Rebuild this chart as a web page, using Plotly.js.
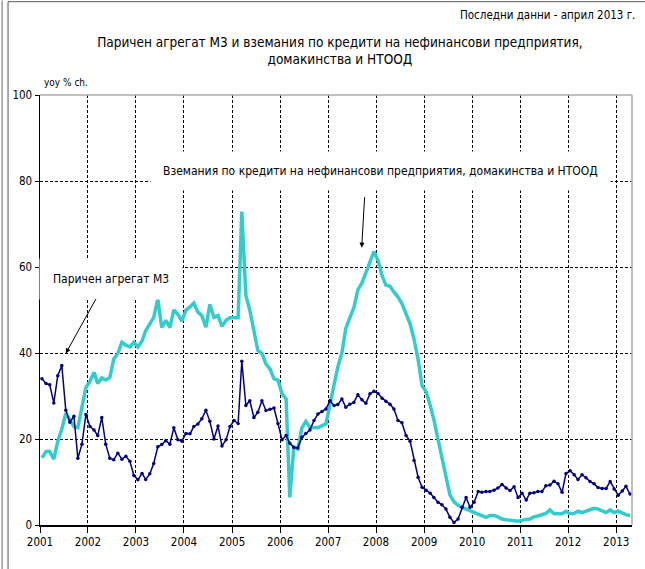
<!DOCTYPE html>
<html>
<head>
<meta charset="utf-8">
<script src="https://cdn.plot.ly/plotly-3.0.1.min.js"></script>
<style>
    body { margin: 0; background: #fff; }
    #chart { width: 645px; height: 569px; }
</style>
</head>
<body>
<div id="chart"></div>
<script>
// Monthly data, January 2001 - April 2013 (yoy % change)
const firstYear = 2001;
const yearLabels = ["2001", "2002", "2003", "2004", "2005", "2006", "2007", "2008", "2009", "2010", "2011", "2012", "2013"];

const m3Name = "Паричен агрегат М3";
const creditName = "Вземания по кредити на нефинансови предприятия, домакинства и НТООД";

// Паричен агрегат М3
const m3Values = [
    34.0, 32.9, 32.6, 28.4, 34.7, 37.1, 26.7, 23.9, 25.3, 15.5, 18.8, 25.7,
    22.9, 22.1, 20.8, 25.0, 18.8, 15.5, 15.2, 16.7, 15.3, 16.0, 14.8, 11.5,
    10.5, 12.0, 10.6, 11.9, 14.3, 18.2, 18.7, 19.6, 18.8, 22.6, 19.8, 19.5,
    21.3, 21.2, 22.9, 23.5, 24.7, 26.7, 24.1, 20.0, 23.0, 18.4, 19.8, 22.9,
    24.3, 23.6, 38.1, 27.8, 28.9, 25.0, 26.2, 28.9, 26.6, 26.9, 27.2, 23.6,
    19.8, 20.8, 19.0, 18.0, 17.9, 20.4, 21.3, 22.1, 24.3, 25.8, 26.4, 27.0,
    28.9, 27.8, 28.0, 29.3, 27.4, 28.1, 28.5, 30.3, 29.1, 28.3, 30.5, 31.1,
    30.6, 29.5, 28.8, 28.1, 27.0, 24.3, 23.8, 20.8, 19.5, 15.0, 11.1, 8.8,
    8.1, 7.4, 6.4, 5.3, 4.7, 3.7, 1.8, 0.6, 1.4, 4.1, 6.4, 4.1,
    5.3, 7.8, 7.6, 7.8, 7.8, 8.1, 8.6, 9.4, 8.6, 8.0, 8.9, 6.4,
    7.4, 5.8, 7.4, 7.5, 7.8, 7.8, 9.1, 9.3, 10.2, 9.6, 7.6, 12.0,
    12.6, 11.7, 10.6, 11.7, 11.0, 10.1, 9.6, 8.7, 8.5, 8.5, 10.1, 8.4,
    6.9, 7.9, 9.0, 7.2
];

// Вземания по кредити
const creditValues = [
    15.6, 17.1, 17.1, 15.3, 19.4, 22.3, 26.0, 24.6, 22.9, 22.6, 27.0, 32.0,
    33.4, 35.5, 32.9, 34.2, 33.7, 34.3, 38.6, 39.9, 42.5, 41.8, 41.4, 42.5,
    41.4, 42.8, 45.2, 46.8, 48.3, 52.6, 45.9, 47.6, 45.9, 50.0, 49.0, 47.4,
    50.0, 50.7, 51.6, 49.5, 48.7, 46.0, 51.3, 48.3, 48.7, 46.2, 47.6, 48.2,
    48.3, 48.2, 72.9, 53.4, 49.9, 45.6, 40.6, 39.9, 37.4, 36.3, 34.0, 33.7,
    30.5, 29.3, 6.4, 18.2, 17.7, 22.6, 24.1, 22.7, 22.6, 22.6, 23.1, 23.5,
    28.1, 32.8, 36.7, 40.0, 45.7, 48.2, 50.5, 54.7, 56.3, 58.7, 61.3, 63.6,
    61.5, 58.0, 55.8, 55.5, 54.2, 53.0, 51.5, 49.0, 46.8, 43.2, 38.5, 32.4,
    31.0, 27.8, 24.5, 20.0, 15.5, 11.0, 7.0, 5.4, 4.6, 4.1, 3.7, 3.3,
    2.8, 2.4, 2.2, 1.8, 2.2, 2.2, 1.9, 1.4, 1.2, 1.0, 1.0, 0.9,
    1.2, 1.3, 1.4, 1.9, 2.1, 2.4, 2.7, 3.5, 2.6, 2.6, 2.6, 3.2,
    2.6, 2.7, 3.2, 2.9, 3.3, 3.7, 3.9, 3.7, 3.3, 2.9, 3.5, 2.9,
    3.2, 2.7, 2.4, 2.2
];

// one date per month, placed in the middle of the month
function monthDates(count) {
    let dates = [];
    for (let i = 0; i < count; i++) {
        let y = firstYear + Math.floor(i / 12);
        let m = (i % 12) + 1;
        dates.push(y + "-" + (m < 10 ? "0" + m : m) + "-16");
    }
    return dates;
}

const dates = monthDates(m3Values.length);
const font = "DejaVu Sans Condensed, sans-serif";

let creditTrace = {
    x: dates,
    y: creditValues,
    name: creditName,
    mode: "lines",
    type: "scatter",
    line: { color: "#33cccc", width: 3.5 }
};

let m3Trace = {
    x: dates,
    y: m3Values,
    name: m3Name,
    mode: "lines+markers",
    type: "scatter",
    line: { color: "#000080", width: 1.5 },
    marker: { color: "#000080", size: 3.5 }
};

let frameLine = { color: "#555", width: 1 };

let layout = {
    width: 645,
    height: 569,
    margin: { l: 40, r: 13, t: 95, b: 44 },
    paper_bgcolor: "#fff",
    plot_bgcolor: "#fff",
    showlegend: false,
    font: { family: font, size: 12, color: "#000" },
    title: {
        text: "Паричен агрегат М3 и вземания по кредити на нефинансови предприятия,<br>домакинства и НТООД",
        font: { family: font, size: 13.5, color: "#000" },
        x: 0.527,
        xanchor: "center",
        y: 0.918,
        yanchor: "middle"
    },
    xaxis: {
        type: "date",
        range: ["2001-01-01", "2013-05-01"],
        tickvals: yearLabels.map(y => y + "-01-01"),
        ticktext: yearLabels,
        ticks: "outside",
        ticklen: 6,
        tickcolor: "#000",
        showline: true,
        linecolor: "#000",
        linewidth: 1.5,
        showgrid: true,
        gridcolor: "#000",
        gridwidth: 1,
        griddash: "3px,2px",
        tickfont: { family: font, size: 11.5 },
        fixedrange: true
    },
    yaxis: {
        range: [0, 100],
        tickvals: [0, 20, 40, 60, 80, 100],
        ticks: "outside",
        ticklen: 4,
        tickcolor: "#000",
        showline: true,
        linecolor: "#000",
        linewidth: 1.5,
        showgrid: true,
        gridcolor: "#000",
        gridwidth: 1,
        griddash: "3px,2px",
        zeroline: false,
        tickfont: { family: font, size: 11.5 },
        fixedrange: true
    },
    shapes: [
        // grey border on top and right of the plot area
        { type: "line", xref: "paper", yref: "paper", x0: 0, x1: 1, y0: 1, y1: 1, line: { color: "#aaa", width: 1.5 } },
        { type: "line", xref: "paper", yref: "paper", x0: 1, x1: 1, y0: 0, y1: 1, line: { color: "#aaa", width: 1.5 } },
        // outer frame
        { type: "line", xref: "paper", yref: "paper", x0: -0.064, x1: -0.064, y0: -0.11, y1: 1.22, line: { color: "#999", width: 1.5 } },
        { type: "line", xref: "paper", yref: "paper", x0: -0.054, x1: -0.054, y0: -0.11, y1: 1.217, line: frameLine },
        { type: "line", xref: "paper", yref: "paper", x0: -0.054, x1: 1.03, y0: 1.217, y1: 1.217, line: frameLine }
    ],
    annotations: [
        {
            text: "Последни данни - април 2013 г.",
            xref: "paper", yref: "paper",
            x: 1.008, y: 1.185,
            xanchor: "right", yanchor: "middle",
            showarrow: false,
            font: { family: font, size: 11.5 }
        },
        {
            text: "yoy % ch.",
            xref: "paper", yref: "paper",
            x: 0.003, y: 1.03,
            xanchor: "left", yanchor: "middle",
            showarrow: false,
            font: { family: font, size: 10 }
        },
        {
            text: creditName,
            xref: "paper", yref: "paper",
            x: 0.576, y: 0.824,
            xanchor: "center", yanchor: "middle",
            showarrow: false,
            bgcolor: "#fff",
            borderpad: 12,
            font: { family: font, size: 12 }
        },
        {
            text: m3Name,
            xref: "paper", yref: "paper",
            x: 0.12, y: 0.571,
            xanchor: "center", yanchor: "middle",
            showarrow: false,
            bgcolor: "#fff",
            borderpad: 13,
            font: { family: font, size: 12 }
        },
        // arrows pointing to the two series
        {
            text: "",
            x: "2001-07-16", y: 39.9,
            ax: 31, ay: -56,
            showarrow: true,
            arrowhead: 2, arrowsize: 1, arrowwidth: 1, arrowcolor: "#000",
            standoff: 0
        },
        {
            text: "",
            x: "2007-09-14", y: 64.5,
            ax: 3, ay: -52,
            showarrow: true,
            arrowhead: 2, arrowsize: 1, arrowwidth: 1, arrowcolor: "#000",
            standoff: 0
        }
    ]
};

Plotly.newPlot("chart", [creditTrace, m3Trace], layout, { displayModeBar: false, staticPlot: true });
</script>
</body>
</html>
